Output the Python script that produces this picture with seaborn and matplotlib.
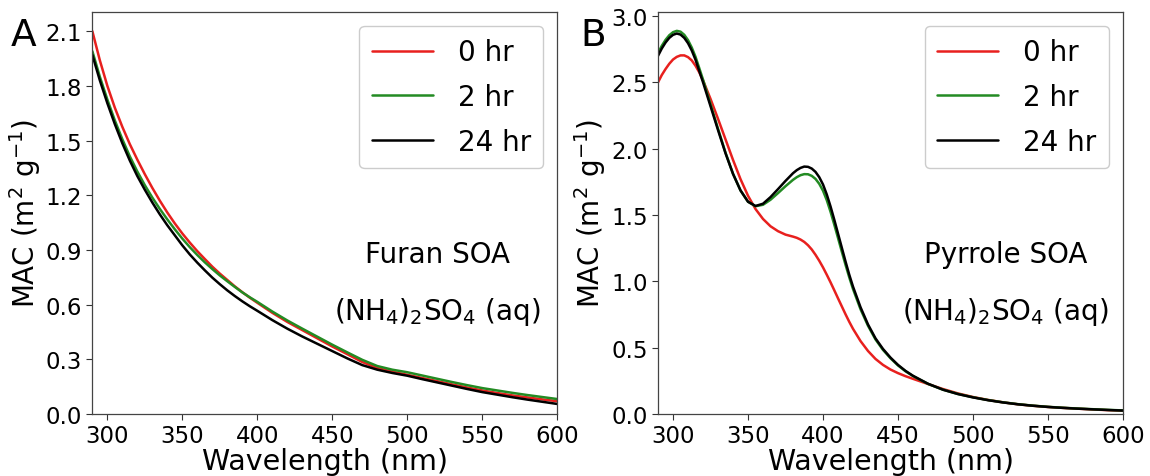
import numpy as np
import pandas as pd
import matplotlib
matplotlib.use("Agg")
import matplotlib.pyplot as plt
import seaborn as sns

# ---------------- data ----------------
labels = ["0 hr", "2 hr", "24 hr"]
colors = ["#e8201e", "#238b23", "#000000"]

# Panel A: Furan SOA
wl_a = [290, 295, 300, 305, 310, 315, 320, 325, 330, 335, 340, 345, 350, 355, 360, 365, 370,
        375, 380, 385, 390, 395, 400,
        410, 420, 430, 440, 450, 460, 470, 480, 490, 500,
        510, 520, 530, 540, 550, 560, 570, 580, 590, 600]
furan_0 = [2.10, 1.94, 1.80, 1.68, 1.575, 1.48, 1.395, 1.315, 1.24, 1.17, 1.105, 1.045, 0.99,
           0.94, 0.893, 0.85, 0.808, 0.77, 0.735, 0.70, 0.668, 0.638, 0.61,
           0.555, 0.505, 0.46, 0.415, 0.37, 0.328, 0.285, 0.252, 0.232, 0.215,
           0.197, 0.18, 0.162, 0.145, 0.129, 0.115, 0.102, 0.091, 0.08, 0.07]
furan_2 = [1.99, 1.85, 1.725, 1.61, 1.507, 1.413, 1.33, 1.255, 1.187, 1.125, 1.067, 1.013, 0.962,
           0.915, 0.872, 0.832, 0.795, 0.76, 0.728, 0.697, 0.667, 0.64, 0.615,
           0.562, 0.513, 0.468, 0.424, 0.38, 0.338, 0.297, 0.263, 0.243, 0.229,
           0.211, 0.193, 0.175, 0.158, 0.142, 0.129, 0.116, 0.104, 0.093, 0.082]
furan_24 = [1.97, 1.83, 1.705, 1.59, 1.485, 1.39, 1.305, 1.23, 1.16, 1.095, 1.035, 0.98, 0.925,
            0.875, 0.83, 0.788, 0.748, 0.712, 0.678, 0.647, 0.618, 0.591, 0.566,
            0.515, 0.468, 0.425, 0.385, 0.345, 0.305, 0.268, 0.243, 0.225, 0.21,
            0.191, 0.173, 0.155, 0.137, 0.12, 0.106, 0.092, 0.079, 0.067, 0.055]

# Panel B: Pyrrole SOA
wl_b = [290, 292.5, 295, 297.5, 300, 302.5, 305, 307.5, 310, 312.5, 315, 317.5, 320,
        325, 330, 335, 340, 345, 350, 355, 360, 365, 370, 375,
        380, 382.5, 385, 387.5, 390, 392.5, 395, 397.5, 400, 402.5, 405, 407.5, 410, 412.5,
        415, 417.5, 420,
        425, 430, 435, 440, 445, 450, 455, 460,
        470, 480, 490, 500, 510, 520, 530, 540, 550, 560, 570, 580, 590, 600]
pyrrole_0 = [2.50, 2.555, 2.60, 2.64, 2.672, 2.692, 2.703, 2.703, 2.69, 2.665, 2.625, 2.575, 2.515,
             2.375, 2.225, 2.07, 1.915, 1.77, 1.645, 1.545, 1.47, 1.415, 1.378, 1.352,
             1.337, 1.328, 1.315, 1.297, 1.272, 1.24, 1.20, 1.155, 1.105, 1.05, 0.993, 0.933,
             0.872, 0.812, 0.752, 0.695, 0.642,
             0.55, 0.475, 0.415, 0.37, 0.335, 0.308, 0.285, 0.265,
             0.226, 0.188, 0.155, 0.128, 0.106, 0.088, 0.073, 0.062, 0.053, 0.046, 0.04, 0.034,
             0.029, 0.025]
pyrrole_2 = [2.72, 2.775, 2.82, 2.855, 2.878, 2.888, 2.882, 2.858, 2.818, 2.762, 2.692, 2.607, 2.52,
             2.335, 2.15, 1.97, 1.81, 1.685, 1.60, 1.566, 1.577, 1.615, 1.665, 1.717,
             1.765, 1.785, 1.80, 1.808, 1.807, 1.795, 1.772, 1.735, 1.683, 1.612, 1.525, 1.428,
             1.327, 1.225, 1.125, 1.03, 0.942,
             0.79, 0.665, 0.562, 0.483, 0.42, 0.366, 0.322, 0.286,
             0.227, 0.183, 0.151, 0.126, 0.105, 0.088, 0.074, 0.063, 0.054, 0.047, 0.041, 0.036,
             0.031, 0.027]
pyrrole_24 = [2.70, 2.755, 2.80, 2.835, 2.858, 2.868, 2.86, 2.835, 2.795, 2.74, 2.67, 2.585, 2.50,
              2.32, 2.14, 1.965, 1.81, 1.685, 1.60, 1.568, 1.585, 1.635, 1.695, 1.757,
              1.815, 1.838, 1.855, 1.865, 1.863, 1.85, 1.825, 1.785, 1.73, 1.655, 1.565, 1.465,
              1.36, 1.255, 1.15, 1.05, 0.96,
              0.805, 0.675, 0.57, 0.49, 0.425, 0.37, 0.325, 0.288,
              0.228, 0.183, 0.15, 0.125, 0.104, 0.087, 0.073, 0.062, 0.053, 0.046, 0.04, 0.035,
              0.03, 0.026]

yticks_a = [0.0, 0.3, 0.6, 0.9, 1.2, 1.5, 1.8, 2.1]
yticks_b = [0.0, 0.5, 1.0, 1.5, 2.0, 2.5, 3.0]
xticks = [300, 350, 400, 450, 500, 550, 600]

# ---------------- plot ----------------
sns.set_style("ticks")
plt.rcParams['font.family'] = ['DejaVu Sans']
plt.rcParams['mathtext.fontset'] = 'dejavusans'
plt.rcParams['text.color'] = 'black'
plt.rcParams['axes.labelcolor'] = 'black'
plt.rcParams['xtick.color'] = 'black'
plt.rcParams['ytick.color'] = 'black'

fig = plt.figure(figsize=(11.5, 4.77), dpi=100)
axA = fig.add_axes([0.0803, 0.130, 0.4043, 0.8427])
axB = fig.add_axes([0.5722, 0.130, 0.4043, 0.8427])

panels = [
    (axA, wl_a, [furan_0, furan_2, furan_24], yticks_a, (0, 2.205), "Furan SOA", 0.742),
    (axB, wl_b, [pyrrole_0, pyrrole_2, pyrrole_24], yticks_b, (0, 3.03), "Pyrrole SOA", 0.748),
]

for ax, wl, series, yt, ylim, name, tx in panels:
    for vals, lab, col in zip(series, labels, colors):
        df = pd.DataFrame({"wl": wl, "mac": vals})
        sns.lineplot(data=df, x="wl", y="mac", color=col, label=lab, ax=ax,
                     linewidth=1.8, estimator=None, sort=False)
    ax.set_xlim(290, 600)
    ax.set_ylim(*ylim)
    ax.set_xticks(xticks)
    ax.set_yticks(yt)
    ax.set_yticklabels([f"{v:.1f}" for v in yt])
    ax.tick_params(labelsize=16.5, length=4, width=0.8, colors="#333333", labelcolor="black")
    for sp in ax.spines.values():
        sp.set_color("#444444")
        sp.set_linewidth(0.9)
    ax.set_xlabel("Wavelength (nm)", fontsize=20.5, labelpad=0)
    ax.set_ylabel(r"MAC (m$^2$ g$^{-1}$)", fontsize=20, labelpad=2)
    ax.legend(loc="upper right", fontsize=20, handlelength=2.2, labelspacing=0.6,
              borderpad=0.45, handletextpad=0.9, framealpha=1)
    ax.text(tx, 0.398, name, transform=ax.transAxes, ha="center", va="center", fontsize=20)
    ax.text(tx, 0.256, r"(NH$_4$)$_2$SO$_4$ (aq)", transform=ax.transAxes,
            ha="center", va="center", fontsize=20)

fig.text(0.009, 0.925, "A", fontsize=27, ha="left", va="center")
fig.text(0.505, 0.925, "B", fontsize=27, ha="left", va="center")

fig.savefig("out.png", dpi=100)
